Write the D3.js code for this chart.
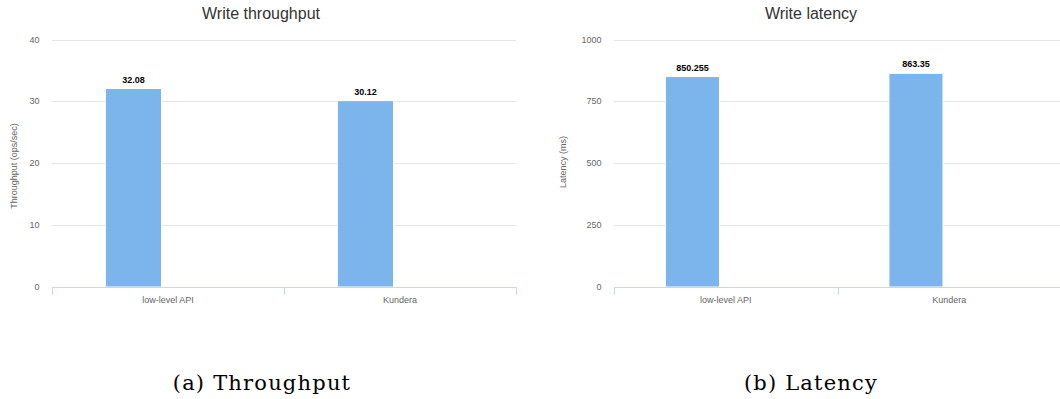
<!DOCTYPE html>
<html>
<head>
<meta charset="utf-8">
<script src="https://cdn.jsdelivr.net/npm/d3@7"></script>
<style>
  body { margin: 0; background: #fff; }
  text { font-family: 'Liberation Sans', Arial, sans-serif; }
</style>
</head>
<body>
<div id="chart"></div>
<script>
const categories = ['low-level API', 'Kundera']
const throughputValues = [32.08, 30.12]
const latencyValues = [850.255, 863.35]
const throughputTicks = [0, 10, 20, 30, 40]
const latencyTicks = [0, 250, 500, 750, 1000]

const width = 1060
const height = 399

const svg = d3
  .select('#chart')
  .append('svg')
  .attr('width', width)
  .attr('height', height)

function drawChart(opts) {
  const g = svg.append('g')

  const x = d3
    .scaleBand()
    .domain(categories)
    .range([opts.left, opts.right])

  const y = d3
    .scaleLinear()
    .domain([0, d3.max(opts.ticks)])
    .range([287, 39.5])

  // grid lines
  g.selectAll('.grid')
    .data(opts.ticks.slice(1))
    .enter()
    .append('line')
    .attr('x1', opts.left)
    .attr('x2', opts.right)
    .attr('y1', d => Math.round(y(d)) + 0.5)
    .attr('y2', d => Math.round(y(d)) + 0.5)
    .attr('stroke', '#e6e6e6')

  // y tick labels
  g.selectAll('.ytick')
    .data(opts.ticks)
    .enter()
    .append('text')
    .attr('x', opts.left - 12.5)
    .attr('y', d => y(d) + 3)
    .attr('text-anchor', 'end')
    .attr('font-size', 9)
    .attr('fill', '#666')
    .text(d => d)

  // bars
  const bw = x.bandwidth()
  const values = opts.values
  g.selectAll('.bar')
    .data(categories)
    .enter()
    .append('rect')
    .attr('x', d => x(d) + bw * 0.23)
    .attr('width', bw * 0.242)
    .attr('y', (d, i) => y(values[i]))
    .attr('height', (d, i) => y(0) - y(values[i]))
    .attr('fill', '#7cb5ec')
    .attr('stroke', '#fff')
    .attr('stroke-width', 1)

  // value labels
  g.selectAll('.val')
    .data(categories)
    .enter()
    .append('text')
    .attr('x', d => x(d) + bw * 0.351)
    .attr('y', (d, i) => y(values[i]) - 6)
    .attr('text-anchor', 'middle')
    .attr('font-size', 9)
    .attr('font-weight', 700)
    .attr('fill', '#000')
    .text((d, i) => values[i])

  // x axis
  g.append('line')
    .attr('x1', opts.left)
    .attr('x2', opts.right)
    .attr('y1', 287.5)
    .attr('y2', 287.5)
    .attr('stroke', '#ccd6eb')

  const edges = categories.map(d => x(d)).concat([opts.right])
  g.selectAll('.xtick')
    .data(edges)
    .enter()
    .append('line')
    .attr('x1', d => Math.round(d) + 0.5)
    .attr('x2', d => Math.round(d) + 0.5)
    .attr('y1', 287)
    .attr('y2', 295)
    .attr('stroke', '#ccd6eb')

  g.selectAll('.xlabel')
    .data(categories)
    .enter()
    .append('text')
    .attr('x', d => x(d) + bw / 2)
    .attr('y', 303)
    .attr('text-anchor', 'middle')
    .attr('font-size', 9)
    .attr('fill', '#666')
    .text(d => d)

  // y axis title
  g.append('text')
    .attr('transform', 'translate(' + opts.yTitleX + ',' + opts.yTitleY + ') rotate(-90)')
    .attr('text-anchor', 'middle')
    .attr('font-size', 9)
    .attr('fill', '#666')
    .text(opts.yTitle)

  // chart title
  g.append('text')
    .attr('x', opts.titleX)
    .attr('y', 19)
    .attr('text-anchor', 'middle')
    .attr('font-size', 16)
    .attr('fill', '#333')
    .text(opts.title)

  // caption
  svg
    .append('text')
    .attr('x', opts.captionX)
    .attr('y', 390)
    .attr('text-anchor', 'middle')
    .attr('font-size', 21)
    .attr('letter-spacing', 1.2)
    .style('font-family', "'DejaVu Serif', serif")
    .attr('fill', '#000')
    .text(opts.caption)
}

drawChart({
  left: 52,
  right: 516,
  values: throughputValues,
  ticks: throughputTicks,
  title: 'Write throughput',
  titleX: 261,
  yTitle: 'Throughput (ops/sec)',
  yTitleX: 17,
  yTitleY: 166,
  caption: '(a) Throughput',
  captionX: 262
})

drawChart({
  left: 614,
  right: 1061,
  values: latencyValues,
  ticks: latencyTicks,
  title: 'Write latency',
  titleX: 811,
  yTitle: 'Latency (ms)',
  yTitleX: 566,
  yTitleY: 162,
  caption: '(b) Latency',
  captionX: 811
})
</script>
</body>
</html>
